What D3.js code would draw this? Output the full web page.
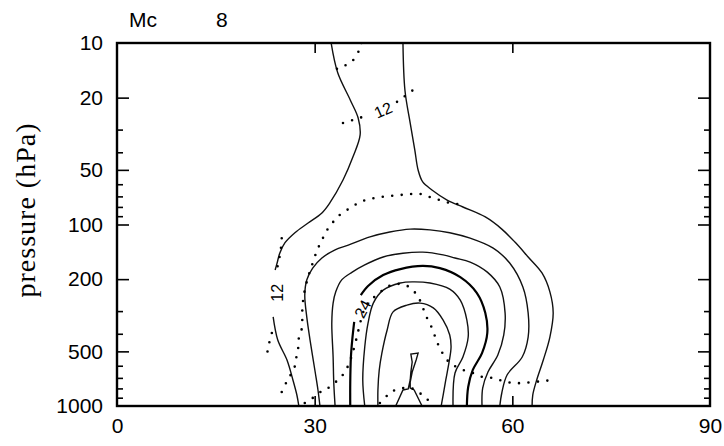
<!DOCTYPE html>
<html>
<head>
<meta charset="utf-8">
<script src="https://cdn.jsdelivr.net/npm/d3@7"></script>
<style>
  html, body { margin: 0; padding: 0; background: #fff; }
  svg { display: block; }
  .tick text { font-family: "Liberation Sans", Arial, sans-serif; font-size: 21px; fill: #000; }
</style>
</head>
<body>
<svg id="chart" width="724" height="446"></svg>
<script>
// Axis definitions
const latTicks = [0, 30, 60, 90];
const latInnerTicks = [30, 60];
const pressureLabels = [10, 20, 50, 100, 200, 500, 1000];
const pressureMajor = [20, 50, 100, 200, 500];
const pressureMinor = [30, 40, 60, 70, 80, 90, 300, 400, 600, 700, 800, 900];

// Solid contours of Mc, each as [latitude, pressure hPa]
const mc12West = [[32.5,10],[33.5,14.6],[35.4,20.6],[36.6,25.9],[36.9,32.1],[35.8,42.5],[34.3,56.9],[32.3,76.1],[31.1,86.4],[29.0,98.1],[27.0,111],[25.5,126],[24.7,144],[24.3,163],[24.0,178]];
const mc12WestLow = [[23.7,323],[24.4,433],[25.8,558],[26.7,719],[27.3,870],[27.6,1000]];
const mc12East = [[43.4,10],[43.7,18.2],[44.5,27.6],[45.2,38.9],[45.7,50.1],[46.4,58.3],[47.8,64.5],[50.1,73.3],[52.5,80.1],[55.9,90.9],[58.4,106],[60.4,125],[62.4,151],[64.5,185],[65.7,235],[66.2,307],[65.7,417],[64.7,558],[63.7,719],[63.1,870],[63.0,1000]];
const mc16 = [[30.8,1000],[30.5,816],[30.1,658],[29.3,433],[28.8,323],[28.5,245],[28.8,202],[29.7,174],[31.1,153],[33.1,138],[35.1,130],[38.4,117],[41.4,110],[44.5,106],[47.5,107],[50.5,111],[53.6,119],[57.1,135],[59.6,163],[61.6,221],[62.4,307],[62.4,417],[61.5,537],[59.2,675],[58.4,848],[58.1,1000]];
const mc20 = [[33.1,1000],[32.9,747],[32.8,537],[32.6,349],[32.8,271],[33.2,235],[34.1,202],[35.7,183],[37.6,167],[40.4,151],[43.4,144],[46.4,142],[49.5,147],[51.3,153],[53.6,161],[56.2,183],[58.1,221],[58.9,307],[58.7,406],[57.8,524],[56.3,650],[55.5,796],[55.4,1000]];
const mc24Low = [[35.4,1000],[35.4,747],[35.5,537],[35.7,433],[36.0,344]];
const mc24High = [[37.0,245],[38.1,218],[40.4,190],[43.0,176],[46.4,169],[49.0,174],[52.1,195],[54.6,238],[55.9,307],[56.2,396],[55.4,511],[54.0,633],[53.3,786],[53.1,1000]];
const mc28 = [[37.6,1000],[37.3,719],[37.6,473],[38.1,349],[38.9,271],[40.4,230],[43.0,210],[44.9,207],[47.5,210],[50.5,227],[52.1,261],[53.1,336],[53.3,417],[52.5,537],[51.3,658],[51.0,1000]];
const mc32 = [[39.6,1000],[39.6,816],[39.8,633],[40.2,511],[41.0,381],[41.9,303],[44.0,278],[46.0,271],[48.0,288],[49.5,336],[50.5,406],[50.7,473],[50.4,572],[49.9,719],[49.5,870],[49.2,1000]];
const mc36 = [[42.3,1000],[43.4,816],[44.2,806],[44.5,719],[44.6,650],[44.8,572],[44.6,517],[45.7,511],[45.4,558],[44.8,650],[44.5,738],[44.5,796],[45.1,816],[46.3,1000]];

// Dotted contours, [latitude, pressure hPa]
const dotTop = [[37.1,10],[36.9,10.6],[36.4,11.6],[35.4,12.9],[33.8,13.6],[32.5,14.6]];
const dotNeckWest = [[34.3,27.6],[37.2,25.6]];
const dotNeckEast = [[42.5,21.1],[44.9,18.2]];
const dotArch = [[25.0,837],[25.8,729],[26.9,618],[27.2,544],[27.5,479],[27.6,422],[28.1,367],[28.1,315],[28.2,271],[28.5,230],[29.0,195],[29.7,163],[30.4,138],[31.1,122],[31.9,107],[32.8,96.9],[33.8,88.6],[35.4,81.1],[36.9,75.2],[38.4,72.4],[39.9,70.6],[41.4,69.7],[43.0,68.8],[44.5,67.9],[46.0,67.9],[47.5,70.6],[49.0,73.3],[50.5,76.1],[51.8,77.1],[53.0,75.2]];
const dotWedge = [[28.5,963],[29.7,903],[31.3,816],[32.3,786],[33.8,701],[34.6,650],[35.4,558],[35.8,504],[36.4,417],[36.9,349],[37.5,296],[38.4,261],[39.5,245],[40.7,224],[42.2,213],[43.7,215],[44.9,230],[45.7,251],[46.3,278],[46.7,307],[47.2,336],[47.8,372],[48.3,417],[48.7,455],[49.3,504],[50.1,558],[51.0,594],[52.5,633],[54.0,658],[55.5,692],[57.1,701],[58.6,729],[60.1,747],[61.6,747],[63.1,738],[64.7,729],[66.0,719]];
const dotLow = [[39.9,963],[41.1,870],[42.2,816],[43.4,796],[44.6,796],[45.7,837],[46.7,892],[47.8,975]];
const dot12WestHigh = [[25.0,119],[24.9,133],[24.7,149],[24.4,167],[24.3,183]];
const dot12WestLow = [[23.5,396],[23.1,450],[22.8,511]];

// Contour labels
const contourLabels = [
  { text: "12", lat: 24.3, p: 238, angle: -90 },
  { text: "24", lat: 37.3, p: 292, angle: -62 },
  { text: "12", lat: 40.4, p: 23.4, angle: -24 }
];

const svg = d3.select("#chart");
const x = d3.scaleLinear().domain([0, 90]).range([117, 710]);
const y = d3.scaleLog().domain([10, 1000]).range([43, 406]);

const plot = svg.append("g");
svg.append("clipPath").attr("id", "frame-clip")
  .append("rect").attr("x", x(0)).attr("y", y(10))
  .attr("width", x(90) - x(0)).attr("height", y(1000) - y(10));

const smooth = d3.line().x(d => x(d[0])).y(d => y(d[1])).curve(d3.curveCatmullRom.alpha(0.5));
const straight = d3.line().x(d => x(d[0])).y(d => y(d[1]));

const lines = plot.append("g").attr("clip-path", "url(#frame-clip)");

const solid = [mc12West, mc12WestLow, mc12East, mc16, mc20, mc28, mc32];
solid.forEach(s => {
  lines.append("path").attr("d", smooth(s))
    .attr("fill", "none").attr("stroke", "#111").attr("stroke-width", 1.4);
});
[mc24Low, mc24High].forEach(s => {
  lines.append("path").attr("d", smooth(s))
    .attr("fill", "none").attr("stroke", "#000").attr("stroke-width", 2.2);
});
lines.append("path").attr("d", straight(mc36))
  .attr("fill", "none").attr("stroke", "#111").attr("stroke-width", 1.4);

const dotted = [dotTop, dotNeckWest, dotNeckEast, dotArch, dotWedge, dotLow, dot12WestHigh, dot12WestLow];
dotted.forEach(s => {
  lines.append("path").attr("d", smooth(s))
    .attr("fill", "none").attr("stroke", "#000").attr("stroke-width", 2.6)
    .attr("stroke-linecap", "round").attr("stroke-dasharray", "0 9.5");
});

// Contour value labels
plot.selectAll("text.clabel").data(contourLabels).join("text")
  .attr("class", "clabel")
  .attr("transform", d => `translate(${x(d.lat)},${y(d.p)}) rotate(${d.angle})`)
  .attr("text-anchor", "middle").attr("dy", "0.35em")
  .style("font-family", "'Liberation Sans', Arial, sans-serif")
  .style("font-size", "16px")
  .text(d => d.text);

// Frame
svg.append("rect").attr("x", x(0)).attr("y", y(10))
  .attr("width", x(90) - x(0)).attr("height", y(1000) - y(10))
  .attr("fill", "none").attr("stroke", "#000").attr("stroke-width", 2.4);

// Left axis: labelled major ticks pointing inward
const fmt = d3.format("d");
const leftMajor = svg.append("g").attr("transform", `translate(${x(0)},0)`)
  .call(d3.axisLeft(y).tickValues(pressureLabels).tickFormat(fmt).tickSize(-12).tickPadding(14));
leftMajor.selectAll(".tick line").filter(d => d === 10 || d === 1000).remove();
svg.append("g").attr("transform", `translate(${x(0)},0)`)
  .call(d3.axisLeft(y).tickValues(pressureMinor).tickFormat("").tickSize(-6));

// Right axis: inward ticks only
svg.append("g").attr("transform", `translate(${x(90)},0)`)
  .call(d3.axisRight(y).tickValues(pressureMajor).tickFormat("").tickSize(-12));
svg.append("g").attr("transform", `translate(${x(90)},0)`)
  .call(d3.axisRight(y).tickValues(pressureMinor).tickFormat("").tickSize(-6));

// Bottom axis with latitude labels, top axis with bare ticks
const bottom = svg.append("g").attr("transform", `translate(0,${y(1000)})`)
  .call(d3.axisBottom(x).tickValues(latTicks).tickFormat(fmt).tickSize(-10).tickPadding(12));
bottom.selectAll(".tick line").filter(d => d === 0 || d === 90).remove();
svg.append("g").attr("transform", `translate(0,${y(10)})`)
  .call(d3.axisTop(x).tickValues(latInnerTicks).tickFormat("").tickSize(-10));

svg.selectAll(".domain").remove();
svg.selectAll(".tick line").attr("stroke", "#000").attr("stroke-width", 1.6);

// Axis title and panel heading
svg.append("text")
  .attr("transform", "translate(35,210) rotate(-90)")
  .attr("text-anchor", "middle")
  .style("font-family", "'Liberation Serif', 'Times New Roman', serif")
  .style("font-size", "28px")
  .style("letter-spacing", "1px")
  .text("pressure (hPa)");

svg.append("text").attr("x", 129).attr("y", 27)
  .style("font-family", "'Liberation Sans', Arial, sans-serif")
  .style("font-size", "21px")
  .text("Mc");
svg.append("text").attr("x", 216).attr("y", 27)
  .style("font-family", "'Liberation Sans', Arial, sans-serif")
  .style("font-size", "21px")
  .text("8");
</script>
</body>
</html>
